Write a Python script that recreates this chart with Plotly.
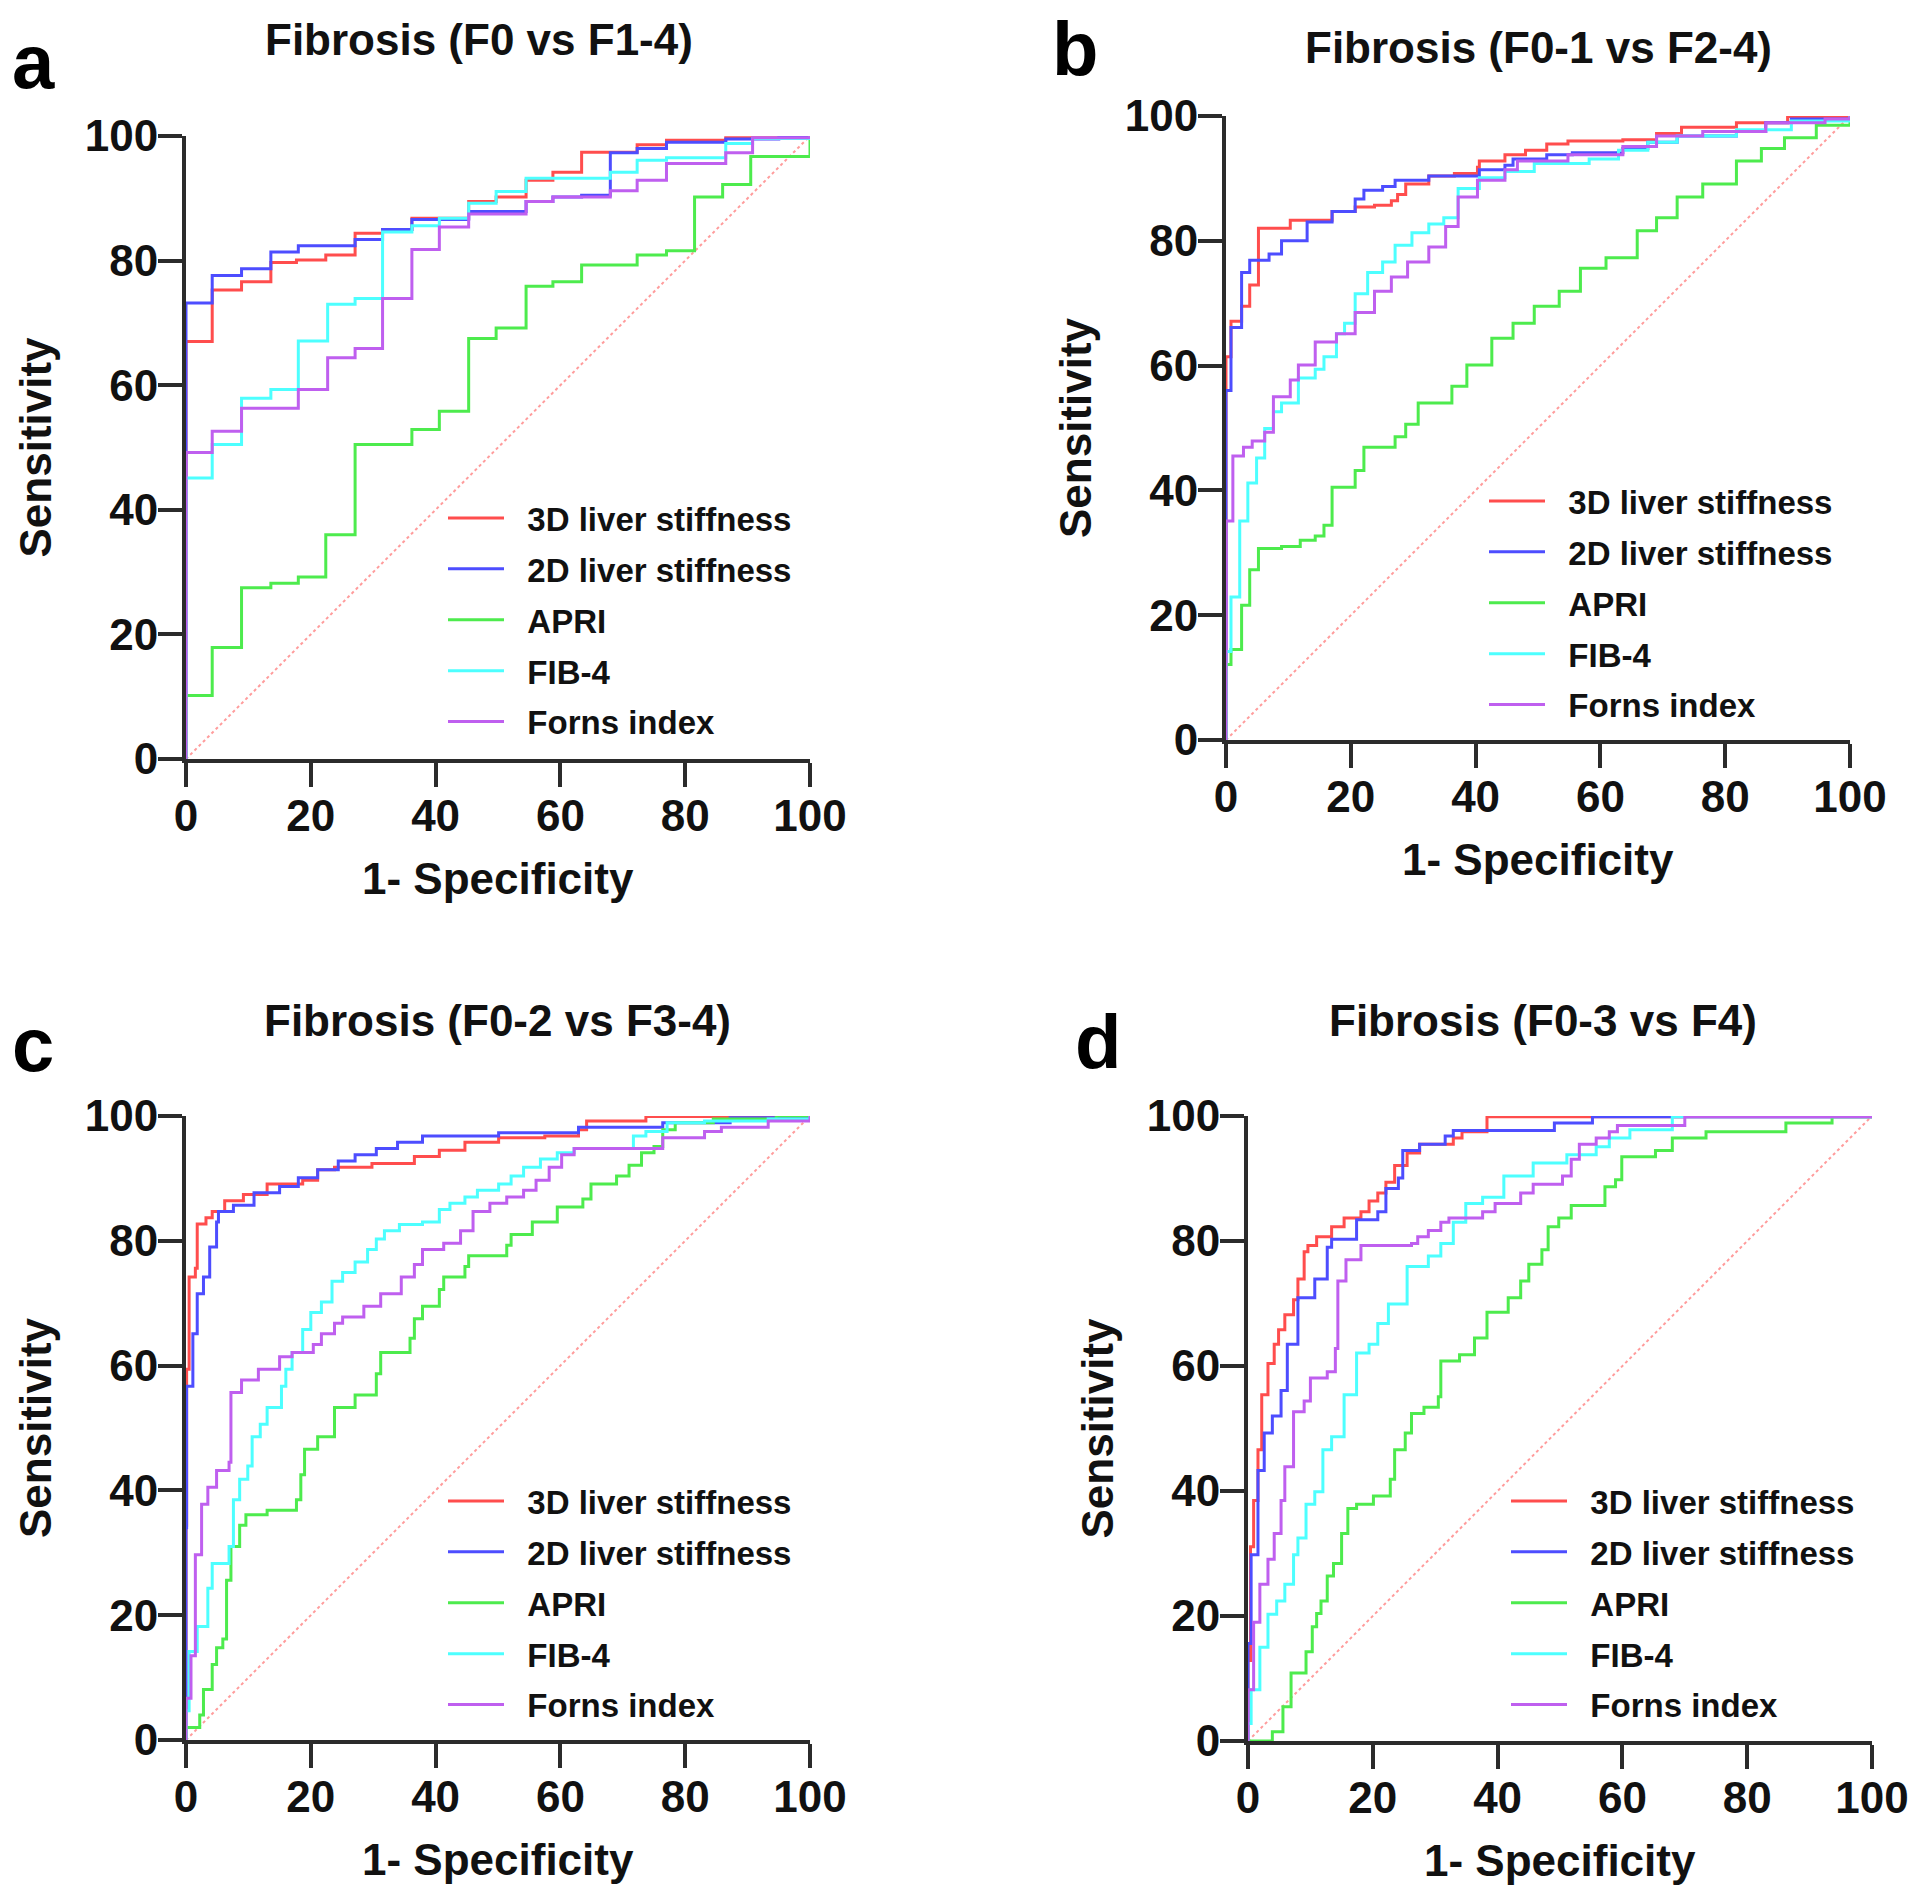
import plotly.graph_objects as go

FONT = "Liberation Sans, Arial, Helvetica, sans-serif"

series_names = ["3D liver stiffness", "2D liver stiffness", "APRI", "FIB-4", "Forns index"]
series_colors = ["#ff4d4d", "#4d4dff", "#4deb4d", "#4dffff", "#bf5fef"]

panel_letters = ["a", "b", "c", "d"]
panel_titles = ["Fibrosis (F0 vs F1-4)", "Fibrosis (F0-1 vs F2-4)",
                "Fibrosis (F0-2 vs F3-4)", "Fibrosis (F0-3 vs F4)"]
tick_vals = [0, 20, 40, 60, 80, 100]
chance_line = [(0, 0), (100, 100)]

# ROC vertices (1-specificity %, sensitivity %)
a_3d = [(0, 0), (0, 67), (4.2, 75.3), (8.9, 76.6), (13.6, 79.7), (17.7, 80.1), (22.4, 80.9), (27.1, 84.4),
        (31.5, 85), (36.2, 86.8), (45.3, 89.5), (49.7, 90.2), (54.5, 92.9), (58.8, 94.2), (63.4, 97.4),
        (72.3, 98.6), (77, 99.3), (86.5, 99.7), (100, 100)]
a_2d = [(0, 0), (0, 73.2), (4.2, 77.6), (8.9, 78.7), (13.6, 81.4), (18, 82.4), (27.1, 83.4), (31.5, 85),
        (36.2, 86.6), (45.3, 87.9), (54.5, 89.5), (58.8, 90.2), (63.4, 90.5), (68, 97.3), (72.3, 98),
        (77, 99), (86.5, 99.5), (95, 100), (100, 100)]
a_apri = [(0, 0), (0, 10.2), (4.2, 17.9), (8.9, 27.5), (13.6, 28.2), (18, 29.2), (22.4, 36), (27.1, 50.5),
          (36.2, 52.9), (40.6, 55.8), (45.3, 67.5), (49.7, 69.2), (54.5, 75.9), (58.8, 76.6), (63.4, 79.3),
          (72.3, 80.9), (77, 81.6), (81.5, 90.2), (86, 92.2), (90.5, 96.7), (100, 100)]
a_fib4 = [(0, 0), (0, 45.1), (4.2, 50.5), (8.9, 57.9), (13.6, 59.3), (18, 67.1), (22.7, 73), (27.1, 73.9),
          (31.5, 84.6), (36.2, 85.6), (40.6, 86.8), (45.3, 89.2), (49.7, 91.1), (54.5, 93.2), (68, 94.2),
          (72.3, 96.1), (77, 96.5), (86.5, 98.8), (90.8, 99.6), (100, 100)]
a_forns = [(0, 0), (0, 49.2), (4.2, 52.6), (8.9, 56.3), (18, 59.3), (22.7, 64.4), (27.1, 65.9), (31.5, 73.9),
           (36.2, 81.8), (40.6, 85.4), (45.3, 87.5), (54.5, 89.5), (58.8, 90.2), (68, 91.2), (72.3, 92.9),
           (77, 95.6), (86.5, 97.3), (90.8, 99.7), (100, 100)]

b_3d = [(0, 0), (0, 61.4), (0.8, 67.1), (2.5, 69.5), (3.8, 72.9), (5.2, 82), (10.3, 83.3), (17, 84.7),
        (20.7, 85.4), (23.8, 85.7), (26.5, 86.4), (27.5, 87.4), (28.8, 89.1), (32.5, 90.4), (36.6, 90.8),
        (40.3, 91.8), (40.6, 92.8), (44.7, 93.8), (48, 94.5), (51.4, 95.5), (54.8, 96), (63.6, 96.2),
        (69, 97.2), (73, 98.2), (81.8, 98.9), (90, 99.9), (100, 100)]
b_2d = [(0, 0), (0, 56), (0.8, 66.1), (2.5, 74.9), (3.8, 76.9), (6.9, 77.9), (8.9, 80), (13, 83), (17, 84.7),
        (20.7, 86.7), (22.1, 88.1), (25.1, 88.7), (27.1, 89.7), (32.5, 90.4), (40.6, 91.4), (44.7, 92.1),
        (46, 93.1), (51.4, 93.8), (55.5, 94.1), (63.6, 94.8), (67.6, 95.8), (72.3, 96.8), (81.8, 97.5),
        (86.5, 98.9), (90.6, 99.5), (100, 100)]
b_apri = [(0, 0), (0, 12.1), (0.8, 14.5), (2.5, 21.6), (3.8, 27.3), (5.2, 30.7), (8.9, 31), (11.9, 32),
          (14.3, 32.7), (15.7, 34.4), (17, 40.5), (20.7, 43.2), (22.1, 46.9), (27.1, 48.6), (28.8, 50.6),
          (30.8, 54), (36.2, 56.7), (38.6, 60.1), (42.6, 64.4), (46, 66.8), (49.4, 69.5), (53.4, 71.9),
          (56.8, 75.6), (60.9, 77.3), (65.9, 81.6), (69, 83.7), (72.3, 87), (76.4, 89.1), (81.8, 92.8),
          (85.8, 94.8), (89.5, 96.5), (94.6, 98.5), (100, 100)]
b_fib4 = [(0, 0), (0, 14.2), (0.8, 22.9), (2.2, 35.1), (3.5, 41.2), (4.9, 45.2), (6.2, 49.9), (7.6, 52.6),
          (8.9, 54), (11.6, 58), (14.3, 59.4), (15.7, 61.4), (17.7, 65.1), (19, 66.8), (20.7, 71.5),
          (22.7, 74.9), (25.1, 76.6), (27.1, 79.3), (29.8, 81.3), (32.5, 82.7), (34.9, 83.7), (37.2, 88.4),
          (40.6, 90.1), (44.7, 91.1), (49.4, 92.4), (58.2, 93.1), (62.9, 94.5), (67.6, 95.8), (72.3, 96.8),
          (81.8, 97.8), (90.6, 99.2), (100, 100)]
b_forns = [(0, 0), (0, 35.1), (1.1, 45.5), (2.8, 46.9), (4.2, 47.9), (6.2, 49.3), (7.6, 55), (10.3, 57.7),
           (11.6, 60.1), (14.3, 63.8), (17.7, 65.1), (20.7, 68.5), (23.8, 71.9), (26.5, 74.2), (29.1, 76.6),
           (32.5, 79), (35.2, 82.3), (37.2, 87), (40.3, 89.7), (44.7, 91.4), (46.7, 92.8), (54.8, 93.8),
           (63.6, 95.1), (69, 96.8), (76.4, 97.5), (86.5, 98.9), (96, 99.5), (100, 100)]

c_3d = [(0, 0), (0, 34.4), (0.1, 59.4), (0.5, 74.2), (1.5, 75.6), (1.8, 82.7), (3.2, 83.7), (4.2, 84.7),
        (6.2, 86.4), (9.2, 87.4), (13, 89.1), (18.7, 89.7), (21.1, 91.4), (23.8, 91.8), (29.8, 92.4),
        (36.6, 93.5), (40.6, 94.5), (44.7, 95.8), (50.1, 96.5), (57.5, 96.8), (62.9, 97.8), (64.2, 99.2),
        (73.7, 99.9), (100, 100)]
c_2d = [(0, 0), (0, 34), (0.1, 56.7), (1.1, 65.1), (1.8, 71.5), (2.8, 74.2), (3.8, 79), (4.9, 83), (5.2, 84.7),
        (7.6, 85.7), (10.9, 87.7), (15, 88.7), (18, 90.1), (21.1, 91.4), (24.4, 92.8), (27.1, 93.8),
        (30.5, 94.8), (33.9, 95.8), (37.9, 96.8), (50.1, 97.3), (62.9, 98.2), (76.4, 98.9), (87.2, 99.7),
        (100, 100)]
c_apri = [(0, 0), (0, 2), (2.2, 4), (2.8, 8.1), (4.2, 12.1), (4.9, 14.8), (5.9, 16.2), (6.5, 25.6), (7.2, 31),
          (8.6, 34.4), (9.6, 36.1), (13, 36.8), (17.7, 38.5), (18.4, 42.5), (19, 46.6), (21.1, 48.6),
          (23.8, 53.3), (27.1, 55.3), (30.5, 58.7), (31.2, 62.1), (35.9, 64.4), (36.6, 67.5), (37.9, 69.5),
          (40.6, 72.2), (41.3, 74.2), (44.7, 75.9), (45.3, 77.6), (51.4, 79.3), (52.1, 81), (55.5, 83),
          (59.5, 85.4), (63.6, 86.7), (64.9, 89.1), (69, 90.4), (71, 92.1), (73, 94.1), (75, 95.1),
          (76.4, 97.8), (78.4, 98.9), (84.5, 99.5), (94.6, 100), (100, 100)]
c_fib4 = [(0, 0), (0, 4.7), (0.5, 14.2), (1.8, 18.2), (3.5, 24.3), (4.2, 28.3), (6.9, 31), (7.6, 38.5),
          (8.6, 41.8), (9.9, 43.9), (10.6, 48.6), (11.9, 50.6), (13, 53.3), (15.3, 56.7), (16, 59.4),
          (17, 62.1), (18.7, 65.8), (20, 68.5), (21.7, 70.2), (23.4, 73.5), (25.1, 74.9), (27.1, 76.6),
          (29.1, 78.6), (30.5, 80.3), (31.8, 81.6), (34.2, 82.6), (37.9, 83), (40.6, 85), (42.3, 86),
          (44.7, 87), (46.7, 88.1), (50.1, 89.1), (52.1, 90.4), (54.1, 91.8), (56.8, 93.1), (59.5, 94.1),
          (62.2, 94.8), (71.7, 96.8), (73.7, 97.5), (77.1, 98.9), (83.1, 99.2), (93.3, 99.5), (100, 100)]
c_forns = [(0, 0), (0, 6.7), (0.8, 13.5), (1.5, 29.7), (2.5, 37.8), (3.5, 40.5), (4.9, 43.2), (6.9, 44.5),
           (7.2, 55.7), (8.9, 57.7), (11.6, 59.4), (15, 61.4), (17, 62.1), (20.4, 63.4), (21.7, 65.1),
           (23.8, 66.8), (25.1, 67.8), (28.5, 69.5), (31.2, 71.5), (34.5, 74.2), (36.6, 76.2), (37.9, 78.6),
           (41.3, 79.6), (44, 81.6), (46, 84.7), (48.7, 86), (51.4, 87), (54.1, 88.1), (56.1, 89.7),
           (58.2, 91.8), (60.2, 93.8), (62.2, 94.8), (76.4, 96.5), (83.1, 97.5), (85.8, 98.2), (93.3, 99.2),
           (100, 100)]

d_3d = [(0, 0), (0, 12.9), (0.4, 31.1), (0.9, 38.5), (1.6, 46.6), (2.2, 55.4), (3.2, 60.4), (4.2, 63.5),
        (4.9, 65.8), (5.9, 68.2), (7.3, 70.6), (8, 73.9), (9, 78.3), (9.6, 79.3), (11, 80.7), (13.4, 82.3),
        (15.4, 83.7), (18.1, 84.7), (19.4, 86.4), (20.8, 87.7), (22.1, 89.4), (23.5, 92.1), (25.5, 94.1),
        (27.5, 95.5), (32.9, 96.5), (34.3, 97.5), (38.3, 99.9), (100, 100)]
d_2d = [(0, 0), (0, 15.6), (0.5, 29.8), (1.6, 43.3), (2.6, 49.3), (3.9, 52), (5.3, 56.1), (6.3, 63.5),
        (8, 70.9), (10.7, 73.9), (12.7, 79), (13.4, 80.3), (17.4, 83.4), (20.8, 84.7), (22.1, 88.4),
        (24.1, 90.1), (24.8, 94.5), (27.5, 95.5), (31.6, 96.8), (32.9, 97.7), (49.1, 98.9), (55.2, 99.9),
        (100, 100)]
d_apri = [(0, 0), (3.9, 1.5), (5.6, 5.5), (6.9, 10.9), (9.3, 14.3), (10.3, 18.3), (11, 20.4), (11.7, 22.4),
          (12.7, 26.4), (13.7, 28.4), (15, 33.2), (16, 37.2), (17.4, 37.9), (20.1, 39.2), (22.8, 41.9),
          (23.5, 46.6), (25.2, 49.3), (26.2, 52.4), (28.2, 53.4), (30.5, 55.1), (30.9, 60.8), (33.9, 61.8),
          (36.3, 64.5), (38.3, 68.6), (41.7, 70.9), (43.7, 73.6), (45, 76.3), (47.1, 78.6), (48.1, 82.3),
          (49.8, 83.7), (51.8, 85.7), (57.2, 88.7), (58.9, 89.8), (59.9, 93.5), (65.3, 94.5), (68, 96.5),
          (73.4, 97.5), (86.2, 98.9), (93.6, 99.9), (100, 100)]
d_fib4 = [(0, 0), (0, 2.8), (0.5, 8.2), (1.9, 15), (3.2, 20.3), (4.6, 22.4), (5.9, 25.1), (7.3, 29.8),
          (8, 32.5), (9.3, 37.9), (10.7, 39.9), (12, 46.6), (13.4, 48.7), (15.4, 55.4), (17.4, 62.1),
          (19.4, 63.5), (20.8, 66.8), (22.5, 69.9), (25.5, 75.9), (28.9, 77.6), (30.9, 79.6), (32.9, 83),
          (34.9, 86), (37.6, 87), (41, 90.4), (45.7, 92.5), (51.1, 93.8), (55.8, 95.1), (57.9, 96.5),
          (61.2, 97.8), (68, 99.9), (100, 100)]
d_forns = [(0, 0), (0, 8.2), (0.9, 19), (1.9, 25.1), (3.2, 29.1), (4.2, 33.2), (5.3, 38.5), (5.9, 43.9),
           (7.3, 52.7), (9, 54.4), (10, 58.1), (12.7, 59.1), (14, 62.8), (14.4, 73.6), (15.7, 77), (18.1, 79.3),
           (26.2, 79.6), (27.2, 80.7), (28.9, 81.7), (30.9, 83), (32.2, 83.7), (37.6, 84.7), (39.6, 86),
           (43.7, 87.7), (45.7, 89.1), (50.4, 90.4), (51.8, 93.1), (53.1, 95.5), (55.8, 96.5), (57.9, 97.5),
           (59.2, 98.5), (70, 99.9), (100, 100)]

panel_curves = [
    [a_3d, a_2d, a_apri, a_fib4, a_forns],
    [b_3d, b_2d, b_apri, b_fib4, b_forns],
    [c_3d, c_2d, c_apri, c_fib4, c_forns],
    [d_3d, d_2d, d_apri, d_fib4, d_forns],
]

W, H = 1920, 1900
# target positions in screen pixels: plot boxes (left, right, top, bottom)
boxes = [(186, 810, 136, 759), (1226, 1850, 116, 740), (186, 810, 1116, 1740), (1248, 1872, 1116, 1741)]
title_pos = [(479, 40), (1538, 47), (497, 1020), (1543, 1020)]
letter_pos = [(33, 61), (1075, 48), (33, 1044), (1098, 1041)]
legend_pos = [(443, 490), (1484, 473), (443, 1473), (1506, 1473)]


def px(x):
    return x / W


def py(y):
    return 1 - y / H


fig = go.Figure()
layout = dict(width=W, height=H, margin=dict(l=0, r=0, t=0, b=0, autoexpand=False),
              paper_bgcolor="white", plot_bgcolor="white",
              font=dict(family=FONT, color="#111111"), annotations=[])

for i in range(4):
    n = "" if i == 0 else str(i + 1)
    xa, ya, lg = "x" + n, "y" + n, "legend" + n
    left, right, top, bottom = boxes[i]

    fig.add_trace(go.Scatter(x=[p[0] for p in chance_line], y=[p[1] for p in chance_line],
                             xaxis=xa, yaxis=ya, mode="lines", showlegend=False, hoverinfo="skip",
                             line=dict(color="#ff9c9c", width=2, dash="dot")))
    for name, color, pts in zip(series_names, series_colors, panel_curves[i]):
        fig.add_trace(go.Scatter(x=[p[0] for p in pts], y=[p[1] for p in pts], xaxis=xa, yaxis=ya,
                                 mode="lines", line=dict(color=color, width=3, shape="hv"),
                                 name="\u00a0\u00a0" + name, legend=lg, legendgroup=lg + name))

    axis_common = dict(range=[0, 100], tickvals=tick_vals, ticks="outside", ticklen=24, tickwidth=4,
                       tickcolor="#2b2b2b", showline=True, linewidth=4, linecolor="#2b2b2b",
                       showgrid=False, zeroline=False, layer="below traces", automargin=False,
                       ticklabelstandoff=-9,
                       tickfont=dict(family=FONT, size=44, color="#111111", weight="bold"))
    layout["xaxis" + n] = dict(axis_common, domain=[px(left), px(right)], anchor=ya)
    layout["yaxis" + n] = dict(axis_common, domain=[py(bottom), py(top)], anchor=xa)

    lx, ly = legend_pos[i]
    layout[lg] = dict(x=px(lx), y=py(ly), xanchor="left", yanchor="top", bgcolor="rgba(0,0,0,0)",
                      itemwidth=56, tracegroupgap=5,
                      font=dict(family=FONT, size=33, color="#111111", weight="bold"))

    tx, ty = title_pos[i]
    layout["annotations"].append(dict(text=panel_titles[i], x=px(tx), y=py(ty), xref="paper", yref="paper",
                                      showarrow=False, xanchor="center", yanchor="middle",
                                      font=dict(family=FONT, size=44, color="#111111", weight="bold")))
    lx2, ly2 = letter_pos[i]
    layout["annotations"].append(dict(text=panel_letters[i], x=px(lx2), y=py(ly2), xref="paper",
                                      yref="paper", showarrow=False, xanchor="center", yanchor="middle",
                                      height=62, valign="middle",
                                      font=dict(family=FONT, size=76, color="#000000", weight="bold")))
    layout["annotations"].append(dict(text="Sensitivity", x=px(left - 151), y=py((top + bottom) / 2),
                                      xref="paper", yref="paper", showarrow=False, textangle=-90,
                                      xanchor="center", yanchor="middle",
                                      font=dict(family=FONT, size=44, color="#111111", weight="bold")))
    layout["annotations"].append(dict(text="1- Specificity", x=px((left + right) / 2), y=py(bottom + 119),
                                      xref="paper", yref="paper", showarrow=False,
                                      xanchor="center", yanchor="middle",
                                      font=dict(family=FONT, size=44, color="#111111", weight="bold")))

fig.update_layout(**layout)
# drop the page's default body margin so the figure sits at the window's top-left corner
fig.write_html("out.html", config={"displayModeBar": False},
               post_script="document.body.style.margin = '0';")
